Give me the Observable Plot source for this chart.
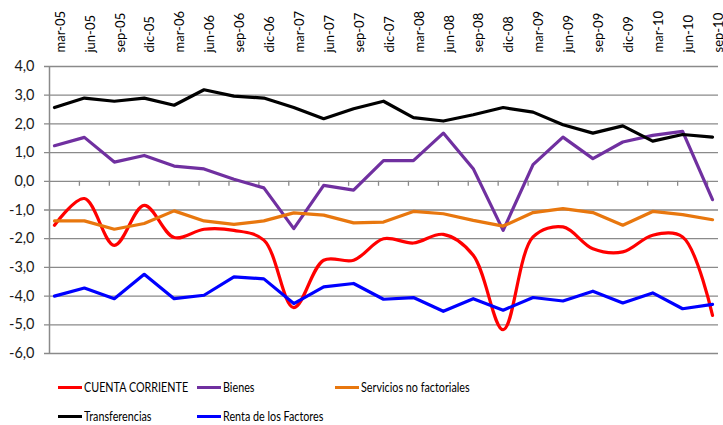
<!DOCTYPE html>
<html><head><meta charset="utf-8">
<script src="https://cdn.jsdelivr.net/npm/d3@7"></script>
<script src="https://cdn.jsdelivr.net/npm/@observablehq/plot@0.6"></script>
<style>
body{margin:0;background:#fff;font-family:Lato,"Liberation Sans",sans-serif}
#chart{position:relative;width:723px;height:425px;background:#fff}
.leg{position:absolute;display:flex;align-items:center;font-family:Lato,sans-serif;font-size:14px;color:#000;white-space:nowrap;line-height:16px}
.leg .sw{display:inline-block;width:24px;height:3px;margin-right:2px;flex:none}
.leg .tx{display:inline-block;transform:scaleX(0.77);transform-origin:left center}
</style></head><body><div id="chart"></div>
<script>
const periods = ["mar-05","jun-05","sep-05","dic-05","mar-06","jun-06","sep-06","dic-06","mar-07","jun-07","sep-07","dic-07","mar-08","jun-08","sep-08","dic-08","mar-09","jun-09","sep-09","dic-09","mar-10","jun-10","sep-10"];
const cuentaCorriente = [-1.53,-0.60,-2.23,-0.84,-1.96,-1.67,-1.71,-2.05,-4.40,-2.75,-2.75,-2.00,-2.15,-1.85,-2.58,-5.17,-1.94,-1.59,-2.35,-2.46,-1.88,-1.94,-4.67];
const bienes = [1.24,1.53,0.67,0.90,0.53,0.43,0.07,-0.23,-1.65,-0.14,-0.31,0.72,0.72,1.68,0.44,-1.71,0.58,1.54,0.79,1.37,1.60,1.74,-0.64];
const servicios = [-1.38,-1.38,-1.67,-1.47,-1.03,-1.38,-1.50,-1.38,-1.10,-1.18,-1.45,-1.42,-1.05,-1.13,-1.36,-1.56,-1.09,-0.95,-1.09,-1.53,-1.05,-1.16,-1.34];
const transferencias = [2.57,2.90,2.79,2.90,2.65,3.19,2.97,2.90,2.57,2.18,2.53,2.79,2.22,2.10,2.32,2.57,2.41,1.97,1.68,1.93,1.40,1.63,1.54];
const renta = [-4.00,-3.72,-4.09,-3.24,-4.09,-3.97,-3.33,-3.40,-4.26,-3.68,-3.56,-4.11,-4.05,-4.53,-4.09,-4.49,-4.05,-4.17,-3.83,-4.24,-3.89,-4.44,-4.29];
const yTicks = [-6,-5,-4,-3,-2,-1,0,1,2,3,4];

const seriesNames = ["CUENTA CORRIENTE","Bienes","Servicios no factoriales","Transferencias","Renta de los Factores"];
const seriesValues = [cuentaCorriente, bienes, servicios, transferencias, renta];
const seriesColors = ["#ff0000","#7030a0","#e8770e","#000000","#0000ff"];

const rows = [];
seriesNames.forEach((s, k) => seriesValues[k].forEach((v, i) => rows.push({serie: s, i, v})));
const idx = periods.map((p, i) => i);
const betweenTicks = periods.slice(1).map((p, i) => i + 1 - 1/6);
const xmin = -1/6, xmax = 22 + 0.2;

const fmt = d => d.toFixed(1).replace(".", ",");
const gridColor = "#8a8a8a";

const marks = [
  Plot.ruleY(yTicks, {stroke: gridColor, strokeWidth: 1.3, insetLeft: -5}),
  Plot.ruleX([xmin], {stroke: gridColor, strokeWidth: 1.5}),
  Plot.ruleX(betweenTicks, {y1: 0, y2: 0, stroke: gridColor, strokeWidth: 1.3, insetBottom: -5}),
  Plot.text(yTicks, {x: xmin, y: d => d, text: fmt, textAnchor: "end", dx: -15, fontSize: 14.5, fill: "#1a1a1a"}),
  Plot.text(idx, {x: d => d, text: d => periods[d], frameAnchor: "top", dy: -14, dx: 1, rotate: -90, textAnchor: "start", fontSize: 13, fill: "#000"})
];
seriesNames.forEach((s, k) => {
  marks.push(Plot.line(rows.filter(r => r.serie === s), {
    x: "i", y: "v", stroke: seriesColors[k], strokeWidth: 3.2,
    curve: k === 0 ? "catmull-rom" : "linear"
  }));
});

const chart = Plot.plot({
  width: 723, height: 370,
  marginTop: 66, marginBottom: 17, marginLeft: 49, marginRight: 5,
  style: {fontFamily: "Lato, 'Liberation Sans', sans-serif", background: "transparent", overflow: "visible"},
  x: {type: "linear", domain: [xmin, xmax], axis: null},
  y: {type: "linear", domain: [-6, 4], axis: null},
  marks
});
const root = document.getElementById("chart");
root.appendChild(chart);

const legendPos = [[58, 387],[197, 387],[335, 387],[58, 416],[197, 416]];
seriesNames.forEach((s, k) => {
  const d = document.createElement("div");
  d.className = "leg";
  d.style.left = legendPos[k][0] + "px";
  d.style.top = (legendPos[k][1] - 8) + "px";
  d.innerHTML = `<span class="sw" style="background:${seriesColors[k]}"></span><span class="tx">${s}</span>`;
  root.appendChild(d);
});
</script></body></html>
